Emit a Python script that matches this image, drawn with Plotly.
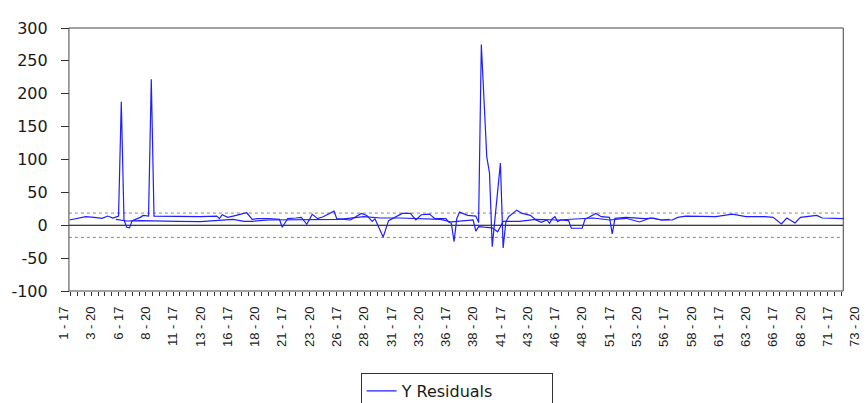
import numpy as np
import plotly.graph_objects as go

# ---------------- data ----------------
tick_labels = ["1 - 17", "3 - 20", "6 - 17", "8 - 20", "11 - 17", "13 - 20", "16 - 17",
               "18 - 20", "21 - 17", "23 - 20", "26 - 17", "28 - 20", "31 - 17", "33 - 20",
               "36 - 17", "38 - 20", "41 - 17", "43 - 20", "46 - 17", "48 - 20", "51 - 17",
               "53 - 20", "56 - 17", "58 - 20", "61 - 17", "63 - 20", "66 - 17", "68 - 20",
               "71 - 17", "73 - 20"]
OBS_PER_LABEL = 10
y_ticks = [-100, -50, 0, 50, 100, 150, 200, 250, 300]
y_tick_labels = ["-100", "-50", "0", "50", "100", "150", "200", "250", "300"]
band_level = 18.5  # +/- dotted reference lines

# first pass of the residual line (observation index, value)
resid_a_obs = [2, 6, 8, 11, 14, 16, 18, 20, 21, 22, 23, 24, 25, 28, 29, 31, 32, 33, 42, 50,
               56, 57, 58, 60, 62, 67, 69, 71, 75, 79, 80, 82, 85, 87, 89, 91, 93, 95, 99,
               100, 105, 109, 111, 113, 114, 117, 119, 121, 124, 127, 129, 131, 134, 136,
               140, 141, 142, 143, 144, 145, 148, 151, 152, 153, 155, 156, 157, 160, 161,
               162, 163, 166, 168, 171, 173, 175, 177, 178, 179, 180, 181, 182, 185, 186,
               190, 191, 195, 197, 200, 201, 202, 206, 211, 213, 216, 219, 223, 225, 228,
               234, 239, 245, 250, 257, 260, 263, 265, 268, 270, 276, 278, 286]
resid_a_val = [8, 12, 13, 12, 10.5, 14, 11, 14, 188, 8, -3, -4, 7, 12, 15, 14, 222, 14, 13, 13,
               14, 10, 16, 12, 14, 19, 9, 10, 10, 9, -3, 10, 11, 12, 1.5, 16.5, 10, 13, 21.5,
               10, 8, 18, 15, 6, 10, -18, 7, 11, 18, 18, 8, 16, 17, 10,
               10, 5, 3, -25, 10, 20, 15, 14, 4, 275, 104, 79.5, -32.5, 94.5, -34.5,
               5, 13, 23, 18, 15, 8, 4.6, 8, 3, 10, 13, 5.6, 8, 7, -4.6,
               -4.6, 9, 18, 13, 12, -13, 10.6, 12, 11, 10, 11, 8, 8, 12, 14,
               13, 13, 17, 13, 13, 12, 2, 11, 3.5, 12, 15, 11, 10]

# second, smoother pass of the residual line
resid_b_obs = [19, 23, 28, 35, 42, 50, 57, 62, 66, 69, 75, 80, 86, 94, 101, 110, 116, 123,
               130, 138, 142, 148, 150, 151, 152, 154, 157, 159, 161, 167, 173, 181, 185,
               189, 194, 200, 206, 211, 215, 219, 222]
resid_b_val = [9, 6.5, 7, 7, 6, 5.5, 7.5, 9, 6, 6, 8, 8, 9, 9, 9, 13, 11, 11,
               10, 9, 5, 8, 8, -9, -2, -3, -4, -10, 6, 6, 9, 8, 9,
               10, 11, 8, 10.6, 5, 11, 8, 9]

# ---------------- figure ----------------
tick_obs = [i * OBS_PER_LABEL for i in range(len(tick_labels))]
x_max = tick_obs[-1]
FRAME_X0, FRAME_X1 = 1.8, 285.7   # frame edges in observation units
minor_ticks = [v for v in np.arange(0, x_max + 0.01, 2.5) if FRAME_X0 <= v <= FRAME_X1]

x_all = resid_a_obs + [None] + resid_b_obs
y_all = resid_a_val + [None] + resid_b_val

fig = go.Figure()
fig.add_trace(go.Scatter(
    x=x_all, y=y_all, mode="lines", name="Y Residuals",
    line=dict(color="#1f1fff", width=1.2), connectgaps=False,
))

# page body has an 8px default margin, so the figure is sized to fit the window
fig.update_layout(
    width=860, height=395,
    margin=dict(l=56, r=13, t=20, b=112, autoexpand=False),
    paper_bgcolor="white", plot_bgcolor="white",
    showlegend=True,
    legend=dict(
        x=0.375, y=-0.312, xanchor="left", yanchor="top",
        orientation="h", entrywidth=145,
        bordercolor="#333333", borderwidth=1,
        font=dict(family="DejaVu Sans", size=16, color="#1a1a1a"),
        bgcolor="white",
    ),
    xaxis=dict(
        range=[0, x_max], tickmode="array", tickvals=tick_obs, ticktext=tick_labels,
        tickangle=-90, ticks="", showline=False, showgrid=False, zeroline=False,
        automargin=False,
        tickfont=dict(family="Liberation Sans", size=13, color="#1a1a1a"),
        ticklabelstandoff=12,
        minor=dict(tickmode="array", tickvals=minor_ticks, ticks="outside",
                   ticklen=4, tickcolor="#333333", tickwidth=1, showgrid=False),
    ),
    yaxis=dict(
        range=[-100, 300], tickmode="array", tickvals=y_ticks, ticktext=y_tick_labels,
        ticks="outside", ticklen=8, tickcolor="#333333", tickwidth=1,
        anchor="free", position=FRAME_X0 / x_max, automargin=False,
        showline=False, showgrid=False, zeroline=False,
        tickfont=dict(family="DejaVu Sans", size=16, color="#1a1a1a"),
        ticklabelstandoff=10,
    ),
)

shapes = [
    dict(type="line", xref="x", yref="y", x0=FRAME_X0, x1=FRAME_X1, y0=band_level, y1=band_level,
         line=dict(color="#888888", width=1, dash="dot"), layer="below"),
    dict(type="line", xref="x", yref="y", x0=FRAME_X0, x1=FRAME_X1, y0=-band_level, y1=-band_level,
         line=dict(color="#888888", width=1, dash="dot"), layer="below"),
    dict(type="line", xref="x", yref="y", x0=FRAME_X0, x1=FRAME_X1, y0=0, y1=0,
         line=dict(color="#000000", width=1), layer="below"),
    dict(type="rect", xref="x", yref="paper", x0=FRAME_X0, x1=FRAME_X1, y0=0, y1=1,
         line=dict(color="#444444", width=1), fillcolor="rgba(0,0,0,0)", layer="above"),
]
fig.update_layout(shapes=shapes)

fig.write_html("out.html")
